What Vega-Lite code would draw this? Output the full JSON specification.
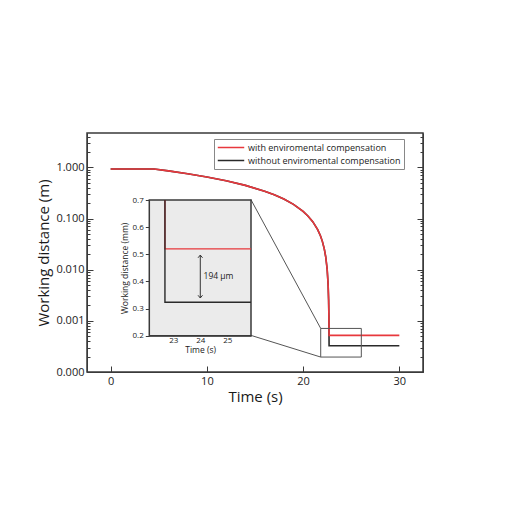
{
  "$schema": "https://vega.github.io/schema/vega-lite/v6.json",
  "width": 336,
  "height": 239,
  "autosize": "none",
  "padding": {"left": 87, "top": 133, "right": 87, "bottom": 138},
  "background": "white",
  "config": {
    "font": "Open Sans",
    "view": {"stroke": "#3a3a3a", "strokeWidth": 1.5},
    "axis": {"grid": false, "domainColor": "#3a3a3a", "tickColor": "#3a3a3a", "labelColor": "#222", "titleColor": "#1a1a1a", "zindex": 1}
  },
  "datasets": {
    "curves": [
      {"t": 0, "d": 0.93, "s": "with enviromental compensation"},
      {"t": 4.5, "d": 0.93, "s": "with enviromental compensation"},
      {"t": 6, "d": 0.853, "s": "with enviromental compensation"},
      {"t": 8, "d": 0.751, "s": "with enviromental compensation"},
      {"t": 10, "d": 0.649, "s": "with enviromental compensation"},
      {"t": 12, "d": 0.547, "s": "with enviromental compensation"},
      {"t": 14, "d": 0.445, "s": "with enviromental compensation"},
      {"t": 16, "d": 0.342, "s": "with enviromental compensation"},
      {"t": 17, "d": 0.291, "s": "with enviromental compensation"},
      {"t": 18, "d": 0.24, "s": "with enviromental compensation"},
      {"t": 19, "d": 0.189, "s": "with enviromental compensation"},
      {"t": 20, "d": 0.138, "s": "with enviromental compensation"},
      {"t": 20.5, "d": 0.112, "s": "with enviromental compensation"},
      {"t": 21, "d": 0.0869, "s": "with enviromental compensation"},
      {"t": 21.5, "d": 0.0613, "s": "with enviromental compensation"},
      {"t": 21.8, "d": 0.046, "s": "with enviromental compensation"},
      {"t": 22, "d": 0.0358, "s": "with enviromental compensation"},
      {"t": 22.2, "d": 0.0256, "s": "with enviromental compensation"},
      {"t": 22.35, "d": 0.0179, "s": "with enviromental compensation"},
      {"t": 22.5, "d": 0.0102, "s": "with enviromental compensation"},
      {"t": 22.6, "d": 0.0051, "s": "with enviromental compensation"},
      {"t": 22.65, "d": 0.0026, "s": "with enviromental compensation"},
      {"t": 22.68, "d": 0.0012, "s": "with enviromental compensation"},
      {"t": 22.7, "d": 0.00052, "s": "with enviromental compensation"},
      {"t": 30, "d": 0.00052, "s": "with enviromental compensation"},
      {"t": 0, "d": 0.93, "s": "without enviromental compensation"},
      {"t": 4.5, "d": 0.93, "s": "without enviromental compensation"},
      {"t": 6, "d": 0.853, "s": "without enviromental compensation"},
      {"t": 8, "d": 0.751, "s": "without enviromental compensation"},
      {"t": 10, "d": 0.649, "s": "without enviromental compensation"},
      {"t": 12, "d": 0.547, "s": "without enviromental compensation"},
      {"t": 14, "d": 0.445, "s": "without enviromental compensation"},
      {"t": 16, "d": 0.342, "s": "without enviromental compensation"},
      {"t": 17, "d": 0.291, "s": "without enviromental compensation"},
      {"t": 18, "d": 0.24, "s": "without enviromental compensation"},
      {"t": 19, "d": 0.189, "s": "without enviromental compensation"},
      {"t": 20, "d": 0.138, "s": "without enviromental compensation"},
      {"t": 20.5, "d": 0.112, "s": "without enviromental compensation"},
      {"t": 21, "d": 0.0869, "s": "without enviromental compensation"},
      {"t": 21.5, "d": 0.0613, "s": "without enviromental compensation"},
      {"t": 21.8, "d": 0.046, "s": "without enviromental compensation"},
      {"t": 22, "d": 0.0358, "s": "without enviromental compensation"},
      {"t": 22.2, "d": 0.0256, "s": "without enviromental compensation"},
      {"t": 22.35, "d": 0.0179, "s": "without enviromental compensation"},
      {"t": 22.5, "d": 0.0102, "s": "without enviromental compensation"},
      {"t": 22.6, "d": 0.0051, "s": "without enviromental compensation"},
      {"t": 22.65, "d": 0.0026, "s": "without enviromental compensation"},
      {"t": 22.68, "d": 0.0012, "s": "without enviromental compensation"},
      {"t": 22.7, "d": 0.000326, "s": "without enviromental compensation"},
      {"t": 30, "d": 0.000326, "s": "without enviromental compensation"}
    ],
    "zoombox": [
      {"t0": 21.83, "t1": 26.05, "d0": 0.000196, "d1": 0.000711}
    ],
    "connectors": [
      {"ta": 14.58, "da": 0.234, "tb": 21.83, "db": 0.000711},
      {"ta": 14.58, "da": 0.00052, "tb": 21.83, "db": 0.000196}
    ],
    "insetbox": [
      {"t0": 22.11, "t1": 25.88, "m0": 0.2, "m1": 0.7}
    ],
    "insetlines": [
      {"t": 22.69, "mm": 0.7, "s": "with", "i": 0},
      {"t": 22.69, "mm": 0.52, "s": "with", "i": 1},
      {"t": 25.88, "mm": 0.52, "s": "with", "i": 2},
      {"t": 22.69, "mm": 0.7, "s": "without", "i": 0},
      {"t": 22.69, "mm": 0.323, "s": "without", "i": 1},
      {"t": 25.88, "mm": 0.323, "s": "without", "i": 2}
    ],
    "arrow": [
      {"t": 24, "mm": 0.497, "mm2": 0.339}
    ],
    "heads": [
      {"t": 24, "mm": 0.497, "dir": "up"},
      {"t": 24, "mm": 0.339, "dir": "down"}
    ],
    "label": [
      {"t": 24.12, "mm": 0.421, "text": "194 μm"}
    ]
  },
  "layer": [
    {
      "layer": [
        {
          "data": {"name": "curves"},
          "transform": [{"filter": "datum.s == 'without enviromental compensation'"}],
          "mark": {"type": "line", "strokeWidth": 1.6},
          "encoding": {
            "x": {"field": "t", "type": "quantitative",
              "scale": {"domain": [-2.46, 32.46], "nice": false, "zero": false},
              "axis": {"orient": "bottom", "values": [0, 10, 20, 30], "format": "d", "tickSize": -6, "labelPadding": 9, "labelFontSize": 11, "title": "Time (s)", "titleFontSize": 15, "titleFontWeight": "normal", "titlePadding": 3}},
            "y": {"field": "d", "type": "quantitative",
              "scale": {"type": "log", "domain": [0.0001, 4.7], "nice": false},
              "axis": {"orient": "left", "values": [0.0001, 0.001, 0.01, 0.1, 1], "format": ".3f", "tickSize": -6, "labelPadding": 9, "labelFontSize": 11, "title": "Working distance (m)", "titleFontSize": 15, "titleFontWeight": "normal", "titlePadding": 4}},
            "color": {"field": "s", "type": "nominal",
              "scale": {"domain": ["with enviromental compensation", "without enviromental compensation"], "range": ["#e8383d", "#2a2a2a"]},
              "legend": {"orient": "none", "legendX": 127, "legendY": 6, "title": null, "symbolType": "stroke", "symbolSize": 700, "symbolStrokeWidth": 1.5, "clipHeight": 11, "rowPadding": 2, "labelFontSize": 9, "labelLimit": 400, "labelOffset": 3, "padding": 3, "fillColor": "white", "strokeColor": "#888", "labelColor": "#222"}}
          }
        },
        {
          "data": {"name": "curves"},
          "transform": [{"filter": "datum.s == 'with enviromental compensation'"}],
          "mark": {"type": "line", "strokeWidth": 1.6},
          "encoding": {
            "x": {"field": "t", "type": "quantitative"},
            "y": {"field": "d", "type": "quantitative"},
            "color": {"field": "s", "type": "nominal"}
          }
        },
        {
          "data": {"name": "zoombox"},
          "mark": {"type": "rect", "fillOpacity": 0, "stroke": "#555", "strokeWidth": 1},
          "encoding": {
            "x": {"field": "t0", "type": "quantitative"},
            "x2": {"field": "t1"},
            "y": {"field": "d0", "type": "quantitative"},
            "y2": {"field": "d1"}
          }
        },
        {
          "data": {"name": "connectors"},
          "mark": {"type": "rule", "stroke": "#555", "strokeWidth": 1},
          "encoding": {
            "x": {"field": "ta", "type": "quantitative"},
            "x2": {"field": "tb"},
            "y": {"field": "da", "type": "quantitative"},
            "y2": {"field": "db"}
          }
        }
      ]
    },
    {
      "data": {"name": "curves"},
      "mark": {"type": "point", "opacity": 0},
      "encoding": {
        "y": {"field": "d", "type": "quantitative",
          "scale": {"type": "log", "domain": [0.0001, 4.7], "nice": false},
          "axis": {"orient": "left", "values": [0.0002, 0.0003, 0.0004, 0.0005, 0.0006, 0.0007, 0.0008, 0.0009, 0.002, 0.003, 0.004, 0.005, 0.006, 0.007, 0.008, 0.009, 0.02, 0.03, 0.04, 0.05, 0.06, 0.07, 0.08, 0.09, 0.2, 0.3, 0.4, 0.5, 0.6, 0.7, 0.8, 0.9, 2, 3, 4], "tickSize": -3, "labels": false, "domain": false, "title": null}}
      }
    },
    {
      "data": {"name": "curves"},
      "mark": {"type": "point", "opacity": 0},
      "encoding": {
        "y": {"field": "d", "type": "quantitative",
          "scale": {"type": "log", "domain": [0.0001, 4.7], "nice": false},
          "axis": {"orient": "right", "values": [0.0001, 0.001, 0.01, 0.1, 1], "tickSize": -6, "labels": false, "title": null}}
      }
    },
    {
      "data": {"name": "curves"},
      "mark": {"type": "point", "opacity": 0},
      "encoding": {
        "y": {"field": "d", "type": "quantitative",
          "scale": {"type": "log", "domain": [0.0001, 4.7], "nice": false},
          "axis": {"orient": "right", "values": [0.0002, 0.0003, 0.0004, 0.0005, 0.0006, 0.0007, 0.0008, 0.0009, 0.002, 0.003, 0.004, 0.005, 0.006, 0.007, 0.008, 0.009, 0.02, 0.03, 0.04, 0.05, 0.06, 0.07, 0.08, 0.09, 0.2, 0.3, 0.4, 0.5, 0.6, 0.7, 0.8, 0.9, 2, 3, 4], "tickSize": -3, "labels": false, "domain": false, "title": null}}
      }
    },
    {
      "layer": [
        {
          "data": {"name": "insetbox"},
          "mark": {"type": "rect", "fill": "#ebebeb", "stroke": "#3a3a3a", "strokeWidth": 1.5},
          "encoding": {
            "x": {"field": "t0", "type": "quantitative",
              "scale": {"domain": [22.11, 25.88], "range": [62.3, 164], "nice": false, "zero": false},
              "axis": {"orient": "bottom", "offset": -36.3, "values": [23, 24, 25], "format": "d", "tickSize": -4, "labelPadding": 5, "labelFontSize": 8, "title": "Time (s)", "titleFontSize": 8.5, "titleFontWeight": "normal", "titlePadding": 1}},
            "x2": {"field": "t1"},
            "y": {"field": "m0", "type": "quantitative",
              "scale": {"domain": [0.2, 0.7], "range": [202.7, 67], "nice": false, "zero": false},
              "axis": {"orient": "left", "offset": -62.3, "values": [0.2, 0.3, 0.4, 0.5, 0.6, 0.7], "format": ".1f", "tickSize": 4, "labelPadding": 2, "labelFontSize": 8, "title": "Working distance (mm)", "titleFontSize": 8.5, "titleFontWeight": "normal", "titlePadding": 3}},
            "y2": {"field": "m1"}
          }
        },
        {
          "data": {"name": "insetlines"},
          "transform": [{"filter": "datum.s == 'with'"}],
          "mark": {"type": "line", "stroke": "#e8383d", "strokeWidth": 1.4},
          "encoding": {
            "x": {"field": "t", "type": "quantitative"},
            "y": {"field": "mm", "type": "quantitative"},
            "order": {"field": "i", "type": "quantitative"}
          }
        },
        {
          "data": {"name": "insetlines"},
          "transform": [{"filter": "datum.s == 'without'"}],
          "mark": {"type": "line", "stroke": "#2a2a2a", "strokeWidth": 1.4},
          "encoding": {
            "x": {"field": "t", "type": "quantitative"},
            "y": {"field": "mm", "type": "quantitative"},
            "order": {"field": "i", "type": "quantitative"}
          }
        },
        {
          "data": {"name": "arrow"},
          "mark": {"type": "rule", "stroke": "#333", "strokeWidth": 1},
          "encoding": {
            "x": {"field": "t", "type": "quantitative"},
            "y": {"field": "mm", "type": "quantitative"},
            "y2": {"field": "mm2"}
          }
        },
        {
          "data": {"name": "heads"},
          "mark": {"type": "point", "filled": false, "stroke": "#333", "strokeWidth": 1, "size": 20, "opacity": 1},
          "encoding": {
            "x": {"field": "t", "type": "quantitative"},
            "y": {"field": "mm", "type": "quantitative"},
            "shape": {"field": "dir", "type": "nominal",
              "scale": {"domain": ["up", "down"], "range": ["M-1,1.2L0,0L1,1.2", "M-1,-1.2L0,0L1,-1.2"]},
              "legend": null}
          }
        },
        {
          "data": {"name": "label"},
          "mark": {"type": "text", "align": "left", "baseline": "middle", "fontSize": 8.5, "color": "#222"},
          "encoding": {
            "x": {"field": "t", "type": "quantitative"},
            "y": {"field": "mm", "type": "quantitative"},
            "text": {"field": "text"}
          }
        }
      ]
    }
  ],
  "resolve": {
    "scale": {"x": "independent", "y": "independent"},
    "axis": {"x": "independent", "y": "independent"}
  }
}
